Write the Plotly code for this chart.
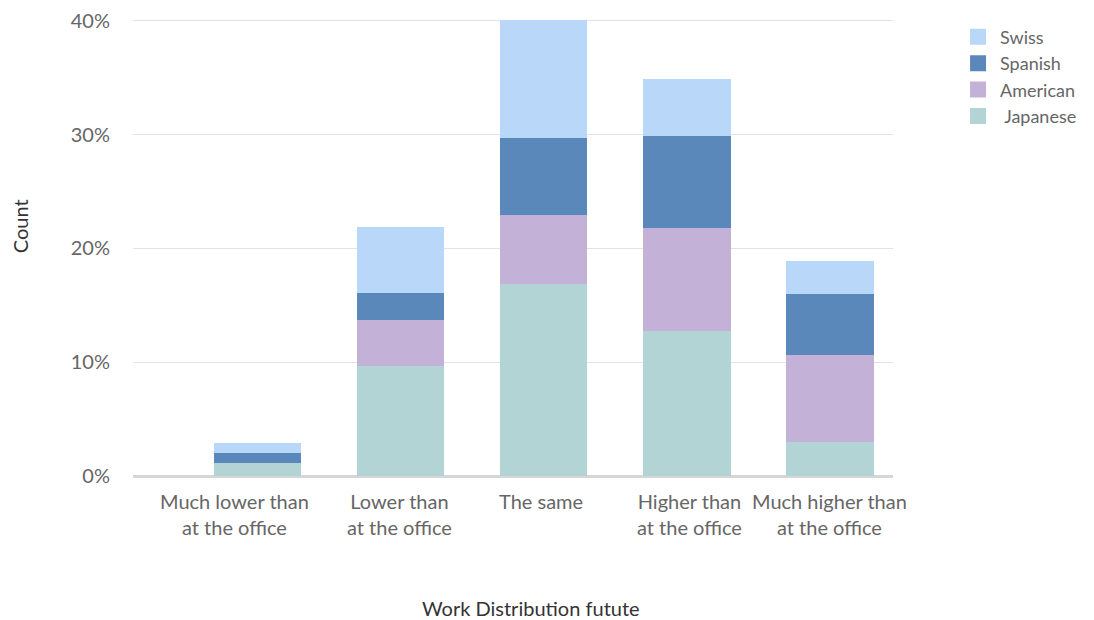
import plotly.graph_objects as go

# Answer categories along the x axis
categories = [
    "Much lower than<br>at the office",
    "Lower than<br>at the office",
    "The same",
    "Higher than<br>at the office",
    "Much higher than<br>at the office",
]
# Horizontal nudge (px) for each category label
label_shift = [-23, -1, -3, 3, -1]

# Share of respondents (%) per group, stacked bottom to top
japanese = [1.1, 9.7, 16.9, 12.7, 3.0]
american = [0.0, 4.0, 6.0, 9.1, 7.6]
spanish = [0.9, 2.4, 6.8, 8.1, 5.4]
swiss = [0.9, 5.8, 10.4, 5.0, 2.9]

y_ticks = [0, 10, 20, 30, 40]
y_tick_labels = ["0%", "10%", "20%", "30%", "40%"]

series = [
    (" Japanese", japanese, "#b3d4d5"),
    ("American", american, "#c3b1d7"),
    ("Spanish", spanish, "#5b88bb"),
    ("Swiss", swiss, "#b9d8f9"),
]

font_family = "Lato, Noto Sans, sans-serif"
text_gray = "#666666"
title_gray = "#333333"

fig = go.Figure()
for name, values, color in series:
    fig.add_trace(go.Bar(
        name=name,
        x=categories,
        y=values,
        marker=dict(color=color, line=dict(width=0)),
        showlegend=False,
        hoverinfo="x+y+name",
    ))
for name, values, color in series:
    # legend swatch drawn as a larger square
    fig.add_trace(go.Scatter(
        name=name,
        x=[None],
        y=[None],
        mode="markers",
        marker=dict(symbol="square", size=18, color=color),
        showlegend=True,
        hoverinfo="skip",
    ))

annotations = []
for cat, dx in zip(categories, label_shift):
    annotations.append(dict(
        text=cat,
        x=cat, y=0, xref="x", yref="y",
        xanchor="center", yanchor="top",
        yshift=-11, xshift=dx,
        showarrow=False,
        align="center",
        font=dict(size=20, color=text_gray),
    ))
annotations.append(dict(
    text="Work Distribution futute",
    xref="paper", yref="paper",
    x=0.524, y=-0.287,
    xanchor="center", yanchor="middle",
    showarrow=False,
    font=dict(size=20, color=title_gray),
))
annotations.append(dict(
    text="Count",
    xref="paper", yref="paper",
    x=-0.1487, y=0.542,
    xanchor="center", yanchor="middle",
    textangle=-90,
    showarrow=False,
    font=dict(size=20, color=title_gray),
))

fig.update_layout(
    barmode="stack",
    bargap=0.39,
    width=1094,
    height=620,
    paper_bgcolor="white",
    plot_bgcolor="white",
    margin=dict(l=133, r=201, t=15, b=144),
    font=dict(family=font_family, size=20, color=text_gray),
    legend=dict(
        traceorder="reversed",
        xref="container",
        yref="container",
        x=0.8739,
        y=0.970,
        xanchor="left",
        yanchor="top",
        font=dict(size=18, color=text_gray),
        itemsizing="trace",
        itemwidth=34,
    ),
    xaxis=dict(
        range=[-0.87, 4.44],
        showgrid=False,
        showline=False,
        showticklabels=False,
        ticks="",
        automargin=False,
    ),
    yaxis=dict(
        range=[0, 40.5],
        tickvals=y_ticks,
        ticktext=y_tick_labels,
        showgrid=True,
        gridcolor="#e3e3e3",
        gridwidth=1,
        zeroline=True,
        zerolinecolor="#d6d6d6",
        zerolinewidth=2.5,
        showline=False,
        ticks="",
        ticklabelstandoff=22,
        tickfont=dict(size=20, color=text_gray),
        automargin=False,
    ),
    annotations=annotations,
)

fig.write_html("out.html")
